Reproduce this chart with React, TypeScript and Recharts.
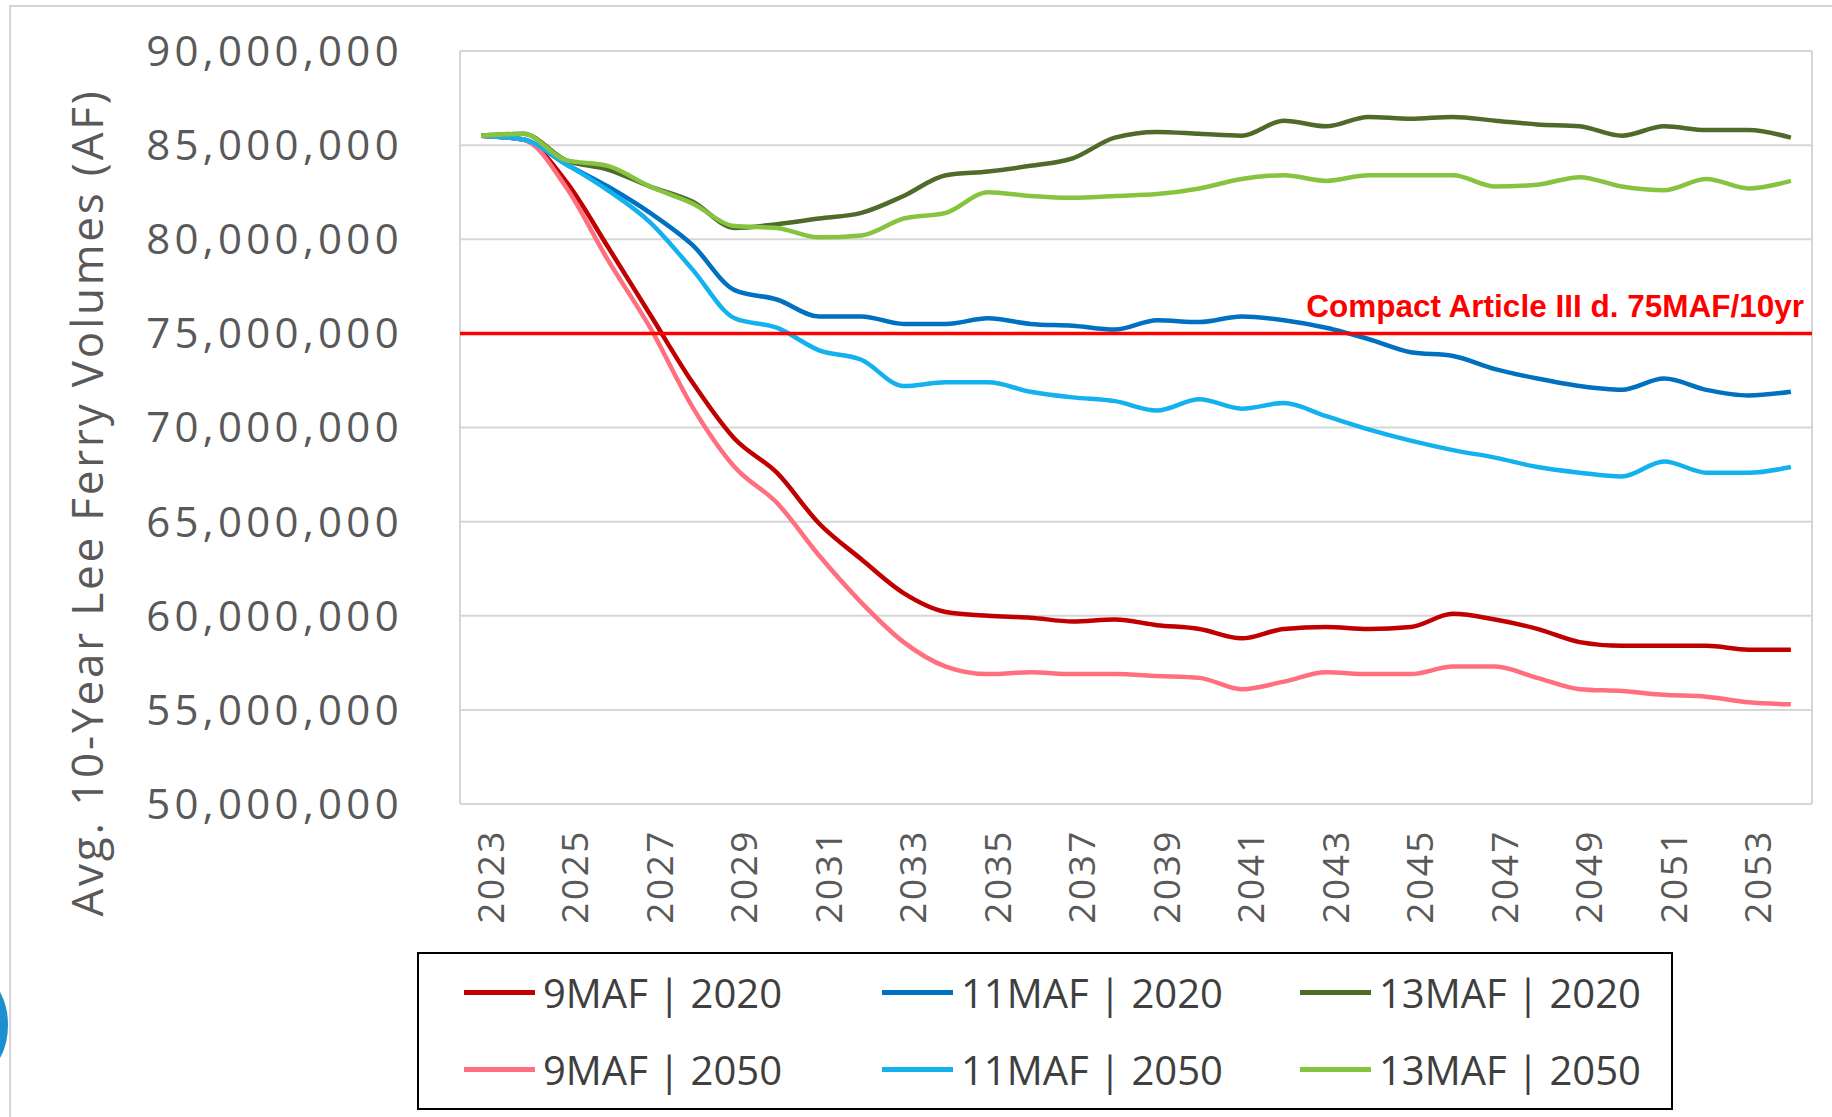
import { LineChart, Line, XAxis, YAxis, CartesianGrid, ReferenceLine, Label } from "recharts";

// years on the category axis
const years = [
  2023, 2024, 2025, 2026, 2027, 2028, 2029, 2030, 2031, 2032, 2033, 2034, 2035, 2036, 2037, 2038,
  2039, 2040, 2041, 2042, 2043, 2044, 2045, 2046, 2047, 2048, 2049, 2050, 2051, 2052, 2053, 2054,
];
const yearLabels = [2023, 2025, 2027, 2029, 2031, 2033, 2035, 2037, 2039, 2041, 2043, 2045, 2047, 2049, 2051, 2053];
const gridYears = [
  2022.5, 2024.5, 2026.5, 2028.5, 2030.5, 2032.5, 2034.5, 2036.5, 2038.5, 2040.5, 2042.5, 2044.5, 2046.5,
  2048.5, 2050.5, 2052.5, 2054.5,
];
const volumeTicks = [50, 55, 60, 65, 70, 75, 80, 85, 90]; // million AF
const compactLimit = 75;

// avg 10-year Lee Ferry volumes, million AF
const maf9_2020 = [
  85.5, 85.3, 83.1, 79.6, 76.0, 72.4, 69.4, 67.6, 64.9, 63.0, 61.2, 60.2, 60.0, 59.9, 59.7, 59.8,
  59.5, 59.3, 58.8, 59.3, 59.4, 59.3, 59.4, 60.1, 59.8, 59.3, 58.6, 58.4, 58.4, 58.4, 58.2, 58.2,
];
const maf9_2050 = [
  85.5, 85.3, 82.8, 78.9, 75.3, 71.1, 67.9, 66.0, 63.2, 60.7, 58.6, 57.3, 56.9, 57.0, 56.9, 56.9,
  56.8, 56.7, 56.1, 56.5, 57.0, 56.9, 56.9, 57.3, 57.3, 56.7, 56.1, 56.0, 55.8, 55.7, 55.4, 55.3,
];
const maf11_2020 = [
  85.5, 85.3, 84.0, 82.8, 81.4, 79.7, 77.3, 76.8, 75.9, 75.9, 75.5, 75.5, 75.8, 75.5, 75.4, 75.2,
  75.7, 75.6, 75.9, 75.7, 75.3, 74.7, 74.0, 73.8, 73.1, 72.6, 72.2, 72.0, 72.6, 72.0, 71.7, 71.9,
];
const maf11_2050 = [
  85.5, 85.3, 84.0, 82.6, 80.9, 78.4, 75.8, 75.3, 74.1, 73.6, 72.2, 72.4, 72.4, 71.9, 71.6, 71.4,
  70.9, 71.5, 71.0, 71.3, 70.6, 69.9, 69.3, 68.8, 68.4, 67.9, 67.6, 67.4, 68.2, 67.6, 67.6, 67.9,
];
const maf13_2020 = [
  85.5, 85.6, 84.2, 83.7, 82.8, 82.0, 80.6, 80.8, 81.1, 81.4, 82.3, 83.4, 83.6, 83.9, 84.3, 85.4,
  85.7, 85.6, 85.5, 86.3, 86.0, 86.5, 86.4, 86.5, 86.3, 86.1, 86.0, 85.5, 86.0, 85.8, 85.8, 85.4,
];
const maf13_2050 = [
  85.5, 85.6, 84.2, 83.9, 82.8, 81.9, 80.7, 80.6, 80.1, 80.2, 81.1, 81.4, 82.5, 82.3, 82.2, 82.3,
  82.4, 82.7, 83.2, 83.4, 83.1, 83.4, 83.4, 83.4, 82.8, 82.9, 83.3, 82.8, 82.6, 83.2, 82.7, 83.1,
];

const series = [
  { key: "s9_2020", name: "9MAF | 2020", color: "#c00000", values: maf9_2020 },
  { key: "s11_2020", name: "11MAF | 2020", color: "#0070c0", values: maf11_2020 },
  { key: "s13_2020", name: "13MAF | 2020", color: "#4f6b2a", values: maf13_2020 },
  { key: "s9_2050", name: "9MAF | 2050", color: "#ff6f7d", values: maf9_2050 },
  { key: "s11_2050", name: "11MAF | 2050", color: "#14b1ef", values: maf11_2050 },
  { key: "s13_2050", name: "13MAF | 2050", color: "#86c440", values: maf13_2050 },
];

const data = years.map((year, i) => {
  const row: Record<string, number> = { year };
  series.forEach((s) => (row[s.key] = s.values[i]));
  return row;
});

const FONT = "'Open Sans', 'DejaVu Sans', sans-serif";
const GRAY = "#595959";

const formatVolume = (v: number) => (v * 1000000).toLocaleString("en-US");

function YearTick({ x, y, payload }: any) {
  return (
    <text
      x={x + 8}
      y={y + 17}
      transform={`rotate(-90, ${x + 8}, ${y + 17})`}
      textAnchor="end"
      dominantBaseline="central"
      fontFamily={FONT}
      fontSize={37}
      letterSpacing={2.5}
      fill={GRAY}
    >
      {payload.value}
    </text>
  );
}

function CompactLabel({ viewBox }: any) {
  return (
    <text
      x={viewBox.x + viewBox.width - 8}
      y={viewBox.y - 16}
      textAnchor="end"
      fontFamily="'Liberation Sans', Arial, sans-serif"
      fontWeight="bold"
      fontSize={31.5}
      fill="#ff0000"
    >
      Compact Article III d. 75MAF/10yr
    </text>
  );
}

function AxisTitle({ viewBox }: any) {
  const cx = viewBox.x + 26;
  const cy = viewBox.y + viewBox.height / 2 + 75;
  return (
    <text
      x={cx}
      y={cy}
      transform={`rotate(-90, ${cx}, ${cy})`}
      textAnchor="middle"
      dominantBaseline="central"
      fontFamily={FONT}
      fontSize={44}
      letterSpacing={2.8}
      fill={GRAY}
    >
      Avg. 10-Year Lee Ferry Volumes (AF)
    </text>
  );
}

export default function App() {
  const rows = [series.slice(0, 3), series.slice(3)];
  return (
    <div style={{ position: "absolute", left: 0, top: 0, width: 1832, height: 1117, background: "#fff", overflow: "hidden" }}>
      <div
        style={{
          position: "absolute",
          left: 9,
          top: 5,
          width: 1830,
          height: 1120,
          borderLeft: "2px solid #d4d4d4",
          borderTop: "2px solid #d4d4d4",
        }}
      />
      <div
        style={{
          position: "absolute",
          left: -42,
          top: 980,
          width: 50,
          height: 90,
          borderRadius: "50%",
          background: "#1b8fd0",
        }}
      />
      <LineChart width={1832} height={1117} data={data} margin={{ top: 51, right: 20, bottom: 283, left: 60 }}>
        <CartesianGrid xAxisId="grid" stroke="#d6d6d6" strokeWidth={2} />
        <XAxis
          dataKey="year"
          type="number"
          domain={[2022.5, 2054.5]}
          ticks={yearLabels}
          interval={0}
          axisLine={false}
          tickLine={false}
          height={30}
          tick={<YearTick />}
        />
        <XAxis xAxisId="grid" type="number" domain={[2022.5, 2054.5]} ticks={gridYears} hide />
        <YAxis
          type="number"
          domain={[50, 90]}
          ticks={volumeTicks}
          width={400}
          axisLine={false}
          tickLine={false}
          tickSize={0}
          tickMargin={57}
          tickFormatter={formatVolume}
          tick={{ fontFamily: FONT, fontSize: 42, letterSpacing: 4.3, fill: GRAY }}
        >
          <Label content={<AxisTitle />} />
        </YAxis>
        {series.map((s) => (
          <Line
            key={s.key}
            dataKey={s.key}
            name={s.name}
            type="monotone"
            stroke={s.color}
            strokeWidth={4.5}
            dot={false}
            activeDot={false}
            isAnimationActive={false}
          />
        ))}
        <ReferenceLine y={compactLimit} stroke="#ff0000" strokeWidth={3.5} label={<CompactLabel />} />
      </LineChart>
      <div
        style={{
          position: "absolute",
          left: 417,
          top: 952,
          width: 1252,
          height: 154,
          border: "2.5px solid #000",
          background: "#fff",
        }}
      >
        {rows.map((row, r) => (
          <div key={r} style={{ position: "absolute", left: 0, top: r === 0 ? 12 : 89, height: 52, width: "100%" }}>
            {row.map((s, c) => (
              <div
                key={s.key}
                style={{
                  position: "absolute",
                  left: 45 + c * 418,
                  top: 0,
                  height: 52,
                  display: "flex",
                  alignItems: "center",
                  fontFamily: FONT,
                  fontSize: 40,
                  color: "#3f3f3f",
                  whiteSpace: "nowrap",
                }}
              >
                <span style={{ display: "inline-block", width: 71, height: 5, background: s.color, marginRight: 8 }} />
                {s.name}
              </div>
            ))}
          </div>
        ))}
      </div>
    </div>
  );
}
